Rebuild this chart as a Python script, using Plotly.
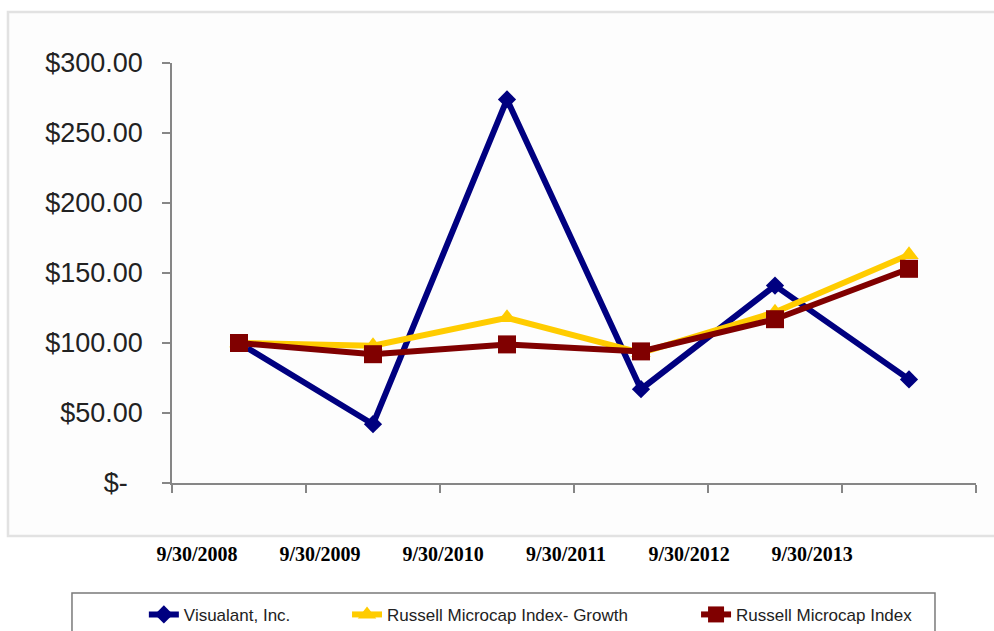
import plotly.graph_objects as go

categories = ["9/30/2008", "9/30/2009", "9/30/2010", "9/30/2011", "9/30/2012", "9/30/2013"]
visualant = [100, 42, 274, 67, 141, 74]
growth = [100, 98, 118, 93, 122, 163]
microcap = [100, 92, 99, 94, 117, 153]
y_ticks = [0, 50, 100, 150, 200, 250, 300]
y_ticktext = ["$-\u00a0\u00a0", "$50.00", "$100.00", "$150.00", "$200.00", "$250.00", "$300.00"]

n = len(categories)
xs = list(range(n))
boundaries = [i - 0.5 for i in range(n + 1)]
# date labels in the original sit slightly left of the points and closer together
label_pos = [-0.313 + 0.918 * i for i in range(n)]

fig = go.Figure()
fig.add_trace(go.Scatter(x=xs, y=visualant, name="Visualant, Inc.", mode="lines+markers",
                         line=dict(color="#000080", width=6),
                         marker=dict(symbol="diamond", size=14, color="#000080"),
                         legend="legend", showlegend=True))
fig.add_trace(go.Scatter(x=xs, y=growth, name="Russell Microcap Index- Growth", mode="lines+markers",
                         line=dict(color="#FFCC00", width=6),
                         marker=dict(symbol="triangle-up", size=17, color="#FFCC00"),
                         legend="legend2", showlegend=True))
fig.add_trace(go.Scatter(x=xs, y=microcap, name="Russell Microcap Index", mode="lines+markers",
                         line=dict(color="#800000", width=6),
                         marker=dict(symbol="square", size=18, color="#800000"),
                         legend="legend3", showlegend=True))

axis_gray = "#868686"
legend_font = dict(family="Liberation Sans", size=17, color="#222222")
fig.update_layout(
    width=994, height=631,
    showlegend=True,
    margin=dict(l=172, r=18, t=63, b=148, autoexpand=False),
    paper_bgcolor="white", plot_bgcolor="rgba(0,0,0,0)",
    xaxis=dict(range=[-0.5, n - 0.5], showgrid=False, zeroline=False,
               showline=True, linecolor=axis_gray, linewidth=1.5,
               tickmode="array", tickvals=label_pos, ticktext=categories, ticks="",
               tickfont=dict(family="Liberation Serif", size=20, color="black", weight="bold"),
               ticklabelstandoff=52,
               minor=dict(tickmode="array", tickvals=boundaries, ticks="outside",
                          ticklen=8, tickcolor=axis_gray, tickwidth=1.5, showgrid=False),
               automargin=False, fixedrange=True),
    yaxis=dict(range=[0, 300], showgrid=False, zeroline=False,
               showline=True, linecolor=axis_gray, linewidth=1.5,
               tickmode="array", tickvals=y_ticks, ticktext=y_ticktext,
               ticks="outside", ticklen=8, tickcolor=axis_gray, tickwidth=1.5,
               tickfont=dict(family="Liberation Sans", size=27, color="#222222"),
               ticklabelstandoff=14,
               automargin=False, fixedrange=True),
    legend=dict(visible=True, orientation="h", x=-0.035, y=-0.314, xanchor="left", yanchor="middle",
                font=legend_font, bgcolor="rgba(0,0,0,0)", borderwidth=0),
    legend2=dict(visible=True, orientation="h", x=0.2177, y=-0.314, xanchor="left", yanchor="middle",
                 font=legend_font, bgcolor="rgba(0,0,0,0)", borderwidth=0),
    legend3=dict(visible=True, orientation="h", x=0.6518, y=-0.314, xanchor="left", yanchor="middle",
                 font=legend_font, bgcolor="rgba(0,0,0,0)", borderwidth=0),
    shapes=[
        dict(type="rect", xref="paper", yref="paper", x0=-0.204, x1=1.03, y0=-0.126, y1=1.1214,
             line=dict(color="#e2e2e2", width=2.5), fillcolor="#fdfdfd", layer="below"),
        dict(type="rect", xref="paper", yref="paper", x0=-0.1244, x1=0.949, y0=-0.386, y1=-0.2619,
             line=dict(color="#7a7a7a", width=1.5), fillcolor="rgba(0,0,0,0)", layer="below"),
    ],
)

fig.write_html("out.html")
